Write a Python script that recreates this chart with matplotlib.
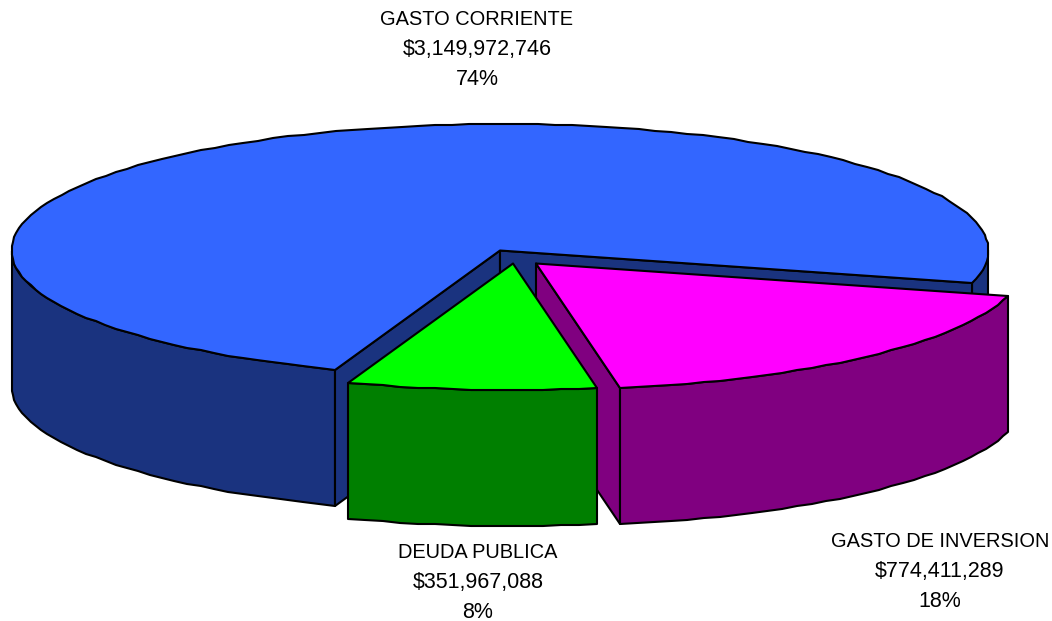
import numpy as np
import matplotlib
matplotlib.use("Agg")
import matplotlib.pyplot as plt

# ---- data ----
categories = ["GASTO DE INVERSION", "DEUDA PUBLICA", "GASTO CORRIENTE"]
values = [774411289, 351967088, 3149972746]
percent_labels = ["18%", "8%", "74%"]

# ---- style ----
top_colors = ["#FF00FF", "#00FF00", "#3366FF"]
side_colors = ["#800080", "#007F00", "#1A337F"]
LW = 1.5
CX, CY, RX, RY, DEPTH = 500.0, 250.5, 488.5, 126.5, 136.0
START = 14.9          # degrees clockwise from the right-hand side
GRID = 1.0            # outline is slightly coarse in the reference
shifts = [(36, 13), (13, 13), (0, 0)]
label_base = [(940, 547), (478, 558), (477, 25)]

fig = plt.figure(figsize=(10.52, 6.21), dpi=100, facecolor="white")
ax = fig.add_axes([0, 0, 1, 1])
ax.set_xlim(0, 1052)
ax.set_ylim(621, 0)
ax.axis("off")

fractions = np.array(values, dtype=float) / sum(values)
edges = START + np.concatenate([[0], np.cumsum(fractions) * 360.0])


def arc(a0, a1, sh, dz=0.0):
    n = max(2, int(abs(a1 - a0) / 2.0) + 1)
    t = np.radians(np.linspace(a0, a1, n))
    x = CX + sh[0] + RX * np.cos(t)
    y = CY + sh[1] + RY * np.sin(t) + dz
    return np.round(x / GRID) * GRID, np.round(y / GRID) * GRID


def poly(x, y, color, z):
    ax.fill(x, y, facecolor=color, edgecolor="black", linewidth=LW,
            joinstyle="round", zorder=z)


def wall_outer(a0, a1, sh, color, z):
    x, y = arc(a0, a1, sh)
    poly(np.r_[x, x[::-1]], np.r_[y, y[::-1] + DEPTH], color, z)


def wall_cut(a, sh, color, z):
    ex, ey = arc(a, a, sh)
    ax0, ay0 = CX + sh[0], CY + sh[1]
    poly([ax0, ex[0], ex[0], ax0], [ay0, ey[0], ey[0] + DEPTH, ay0 + DEPTH], color, z)


def top(a0, a1, sh, color, z):
    x, y = arc(a0, a1, sh)
    poly(np.r_[CX + sh[0], x], np.r_[CY + sh[1], y], color, z)


# blue slice (rear)
a0, a1 = edges[2], edges[3]
wall_outer(a0, 180, shifts[2], side_colors[2], 1)
wall_outer(360, a1, shifts[2], side_colors[2], 1)
wall_cut(a0, shifts[2], side_colors[2], 2)
wall_cut(a1, shifts[2], side_colors[2], 2)
top(a0, a1, shifts[2], top_colors[2], 3)

# magenta slice
a0, a1 = edges[0], edges[1]
wall_cut(a1, shifts[0], side_colors[0], 4)
wall_outer(a0, a1, shifts[0], side_colors[0], 5)
top(a0, a1, shifts[0], top_colors[0], 6)

# green slice
a0, a1 = edges[1], edges[2]
wall_outer(a0, a1, shifts[1], side_colors[1], 7)
top(a0, a1, shifts[1], top_colors[1], 8)

# labels
for name, val, pct, (lx, ly) in zip(categories, values, percent_labels, label_base):
    for i, (s, fs) in enumerate([(name, 14.4), (f"${val:,}", 15.5), (pct, 15.5)]):
        ax.text(lx, ly + i * 30, s, ha="center", va="baseline", color="black",
                fontsize=fs, family="Liberation Sans", zorder=10)

fig.savefig("out.png", dpi=100, facecolor="white")
